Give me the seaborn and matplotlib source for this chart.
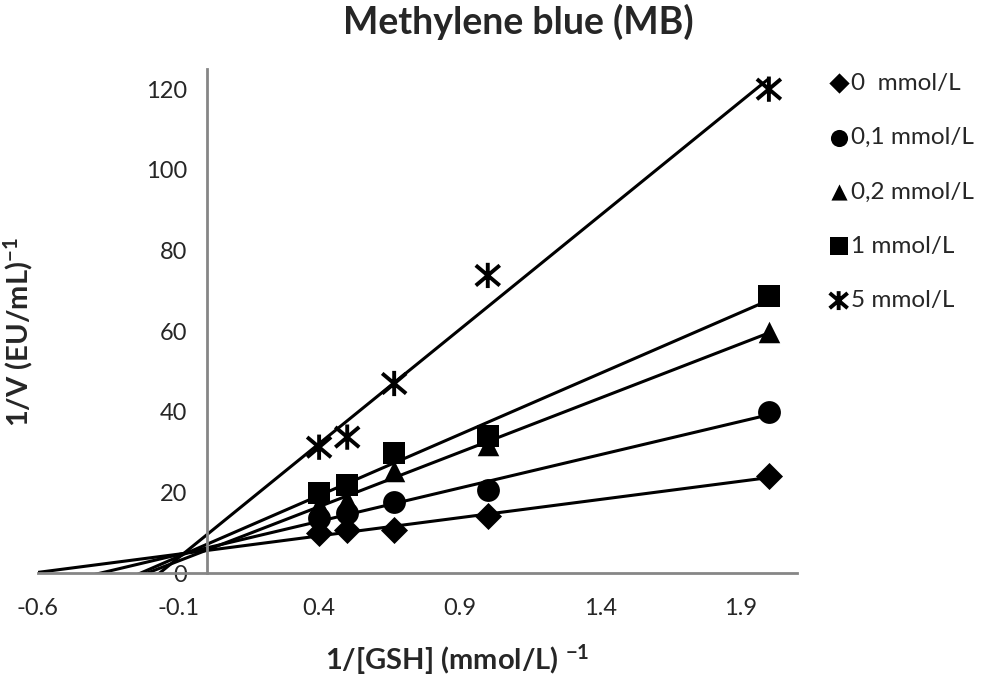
import matplotlib
matplotlib.use('Agg')
import matplotlib.pyplot as plt
from matplotlib.path import Path
from matplotlib.markers import MarkerStyle
import seaborn as sns
import pandas as pd
import numpy as np

# 1/[GSH] values and 1/V for each methylene blue concentration
inv_gsh = [0.4, 0.5, 0.667, 1.0, 2.0]
y_0 = [9.9, 10.6, 10.6, 14.1, 24.0]
y_01 = [13.6, 14.8, 17.6, 20.5, 40.0]
y_02 = [16.8, 18.0, 25.2, 31.7, 59.7]
y_1 = [19.8, 21.8, 29.7, 33.9, 68.6]
y_5 = [31.2, 33.7, 47.0, 73.8, 120.0]
labels = ['0  mmol/L', '0,1 mmol/L', '0,2 mmol/L', '1 mmol/L', '5 mmol/L']
xticks = [-0.6, -0.1, 0.4, 0.9, 1.4, 1.9]
yticks = [0, 20, 40, 60, 80, 100, 120]

sns.set_style('white')
plt.rcParams['font.family'] = ['Lato', 'DejaVu Sans']
plt.rcParams['mathtext.default'] = 'regular'

# excel style star: an X with a vertical bar through it
star_path = Path([(0, -1), (0, 1), (-0.95, -0.8), (0.95, 0.8), (-0.95, 0.8), (0.95, -0.8)],
                 [Path.MOVETO, Path.LINETO] * 3)
star = MarkerStyle(star_path, fillstyle='none')

series = [y_0, y_01, y_02, y_1, y_5]
markers = ['D', 'o', '^', 's', star]
sizes = [190, 270, 240, 270, 330]

fig = plt.figure(figsize=(9.84, 6.84), dpi=100)
ax = fig.add_axes([38/984, 1-573/684, (797-38)/984, (573-69)/684])
ax.set_xlim(-0.6, 2.0)
ax.set_ylim(0, 125)

for ys, m, s, lab in zip(series, markers, sizes, labels):
    df = pd.DataFrame({'x': inv_gsh, 'y': ys})
    sns.regplot(data=df, x='x', y='y', ax=ax, scatter=False, ci=None,
                truncate=False, color='black', line_kws={'lw': 2.2})
    lw = 2.8 if m is star else 0
    sns.scatterplot(data=df, x='x', y='y', ax=ax, marker=m, s=s, color='black',
                    linewidth=lw, label=lab, zorder=3)

ax.set_xlim(-0.6, 2.1)
ax.set_xticks(xticks)
ax.set_xticklabels([f'{t:g}' for t in xticks])
ax.set_yticks(yticks)

gray = '#868686'
ax.spines['left'].set_position(('data', 0))
for sp in ['top', 'right']:
    ax.spines[sp].set_visible(False)
for sp in ['left', 'bottom']:
    ax.spines[sp].set_color(gray)
    ax.spines[sp].set_linewidth(2)
ax.tick_params(axis='both', direction='out', length=6, width=2, color=gray,
               labelsize=17, pad=8)
ax.tick_params(axis='x', pad=12)
ax.set_xlabel('')
ax.set_ylabel('')

fig.text(457/984, 1-660/684, r'1/[GSH] (mmol/L) $^{-1}$', ha='center', va='center',
         fontsize=21, fontweight='bold')
fig.text(18/984, 1-332/684, r'1/V (EU/mL)$^{-1}$', ha='center', va='center',
         rotation=90, fontsize=21, fontweight='bold')
fig.text(518/984, 1-22/684, 'Methylene blue (MB)', ha='center', va='center',
         fontsize=27, fontweight='bold')

ax.legend(loc='upper left', bbox_to_anchor=(818/984, 1-63/684),
          bbox_transform=fig.transFigure, frameon=False, fontsize=17.5,
          labelspacing=1.37, handletextpad=0.05, handlelength=0.9,
          borderaxespad=0, markerscale=0.75)

fig.savefig('out.png', dpi=100)
